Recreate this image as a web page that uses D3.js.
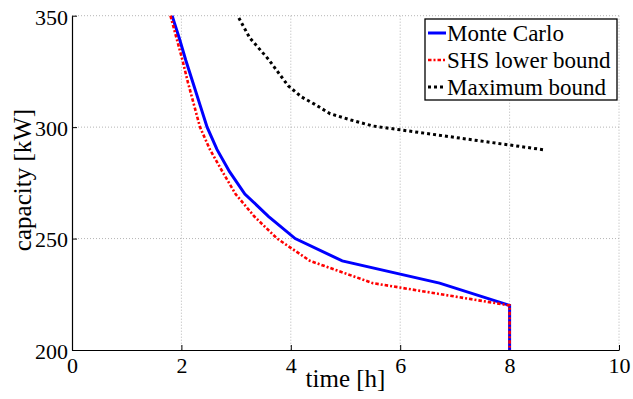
<!DOCTYPE html>
<html>
<head>
<meta charset="utf-8">
<script src="https://cdn.jsdelivr.net/npm/d3@7"></script>
<style>
  body { margin: 0; background: white; }
  svg text { font-family: "Liberation Serif", "Times New Roman", Times, "DejaVu Serif", serif; fill: black; }
</style>
</head>
<body>
<div id="chart"></div>
<script>
// Data (time in h, capacity in kW)
const mcTime = [1.83, 1.96, 2.08, 2.21, 2.34, 2.47, 2.65, 2.88, 3.16, 3.59, 4.08, 4.94, 6.72, 8.0, 8.0];
const mcCap  = [350, 340, 330, 320, 310, 300, 290, 280, 270, 260, 250, 240, 230, 220, 200];

const shsTime = [1.80, 1.91, 2.02, 2.12, 2.23, 2.34, 2.52, 2.75, 2.99, 3.33, 3.75, 4.35, 5.5, 8.0, 8.0];
const shsCap  = [350, 340, 330, 320, 310, 300, 290, 280, 270, 260, 250, 240, 230, 220, 200];

const maxTime = [3.05, 3.25, 3.59, 3.95, 4.2, 4.44, 4.72, 5.1, 5.5, 8.64];
const maxCap  = [349, 340, 330.5, 318.6, 313.5, 310.2, 306, 303.2, 300.5, 289.8];

const xTicks = [0, 2, 4, 6, 8, 10];
const yTicks = [200, 250, 300, 350];
const seriesNames = ["Monte Carlo", "SHS lower bound", "Maximum bound"];

const FONT = '"Liberation Serif", "Times New Roman", Times, "DejaVu Serif", serif';

// Layout
const W = 633, H = 399;
const margin = {top: 15.7, right: 14, bottom: 49, left: 72};
const width = W - margin.left - margin.right;
const height = H - margin.top - margin.bottom;

const x = d3.scaleLinear().domain([0, 10]).range([0, width]);
const y = d3.scaleLinear().domain([200, 350]).range([height, 0]);

const svg = d3.select("#chart").append("svg")
    .attr("width", W).attr("height", H);

const g = svg.append("g")
    .attr("transform", `translate(${margin.left},${margin.top})`);

// Grid (dotted)
g.append("g").selectAll("line").data(xTicks.slice(1)).join("line")
    .attr("x1", d => x(d)).attr("x2", d => x(d))
    .attr("y1", 0).attr("y2", height)
    .attr("stroke", "#b5b5b5").attr("stroke-width", 1)
    .attr("stroke-dasharray", "1,2");
g.append("g").selectAll("line").data(yTicks.slice(1)).join("line")
    .attr("x1", 0).attr("x2", width)
    .attr("y1", d => y(d)).attr("y2", d => y(d))
    .attr("stroke", "#b5b5b5").attr("stroke-width", 1)
    .attr("stroke-dasharray", "1,2");

// Axes, ticks pointing inward
const xAxis = g.append("g")
    .attr("transform", `translate(0,${height})`)
    .call(d3.axisBottom(x).tickValues(xTicks).tickSizeInner(-5).tickSizeOuter(0).tickPadding(10));
const yAxis = g.append("g")
    .call(d3.axisLeft(y).tickValues(yTicks).tickSizeInner(-5).tickSizeOuter(0).tickPadding(9));

[xAxis, yAxis].forEach(a => {
    a.attr("font-family", null).attr("font-size", null);
    a.select(".domain").attr("stroke", "black").attr("stroke-width", 1.2);
    a.selectAll(".tick line").attr("stroke", "black").attr("stroke-width", 1);
    a.selectAll(".tick text")
        .style("font-family", FONT)
        .style("font-size", "22px")
        .attr("fill", "black");
});
yAxis.selectAll(".tick text").attr("dy", "0.38em").attr("x", -4);
xAxis.selectAll(".tick text").attr("dy", "0.6em");

// Lines
const line = d3.line().x(d => x(d[0])).y(d => y(d[1]));
const mc = d3.zip(mcTime, mcCap);
const shs = d3.zip(shsTime, shsCap);
const mx = d3.zip(maxTime, maxCap);

g.append("path").datum(mc).attr("d", line)
    .attr("fill", "none").attr("stroke", "#0000ff").attr("stroke-width", 3);
g.append("path").datum(shs).attr("d", line)
    .attr("fill", "none").attr("stroke", "#ff0000").attr("stroke-width", 2.6)
    .attr("stroke-dasharray", "3.5,2,2,2");
g.append("path").datum(mx).attr("d", line)
    .attr("fill", "none").attr("stroke", "black").attr("stroke-width", 3)
    .attr("stroke-dasharray", "3,3");

// Axis labels
svg.append("text")
    .attr("x", margin.left + x(5)).attr("y", 387)
    .attr("text-anchor", "middle")
    .style("font-family", FONT)
    .style("font-size", "25px")
    .text("time [h]");
svg.append("text")
    .attr("transform", "translate(31,180) rotate(-90)")
    .attr("text-anchor", "middle")
    .style("font-family", FONT)
    .style("font-size", "25px")
    .text("capacity [kW]");

// Legend
const leg = svg.append("g").attr("transform", "translate(425,19)");
leg.append("rect")
    .attr("width", 192).attr("height", 81)
    .attr("fill", "white").attr("stroke", "black").attr("stroke-width", 1.3);
const legStyles = [
    {stroke: "#0000ff", w: 3, dash: null},
    {stroke: "#ff0000", w: 2.6, dash: "3.5,2,2,2"},
    {stroke: "black", w: 3, dash: "3,3"}
];
seriesNames.forEach((name, i) => {
    const cy = 14 + i * 27;
    leg.append("line")
        .attr("x1", 3).attr("x2", 21).attr("y1", cy).attr("y2", cy)
        .attr("stroke", legStyles[i].stroke).attr("stroke-width", legStyles[i].w)
        .attr("stroke-dasharray", legStyles[i].dash);
    leg.append("text")
        .attr("x", 22).attr("y", cy + 8)
        .style("font-family", FONT)
        .style("font-size", "23px")
        .text(name);
});
</script>
</body>
</html>
